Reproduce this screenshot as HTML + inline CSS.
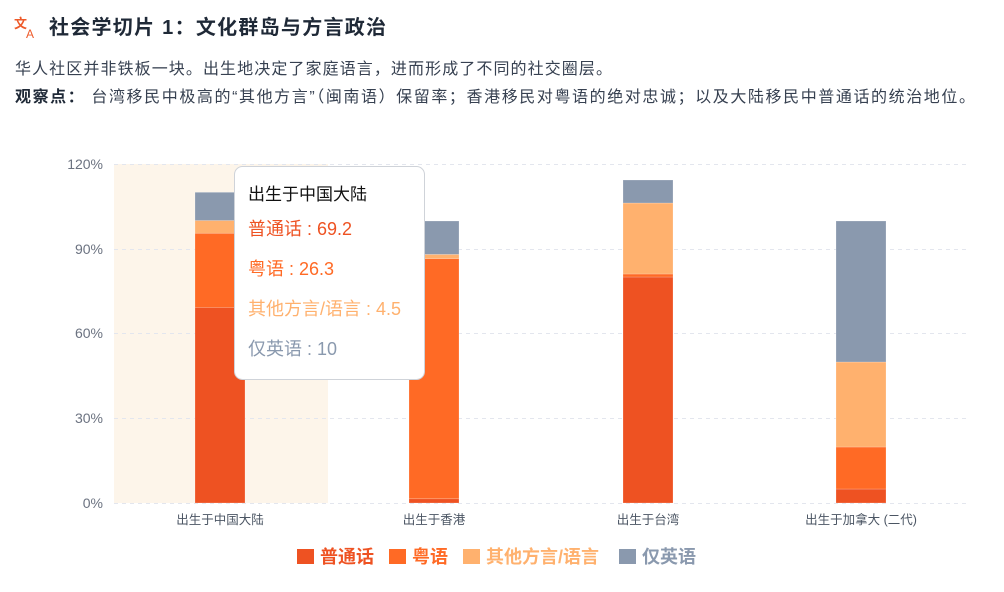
<!DOCTYPE html>
<html><head><meta charset="utf-8"><style>
body{margin:0;background:#fff;width:1004px;height:592px;overflow:hidden;font-family:"Liberation Sans","Noto Sans CJK SC",sans-serif}
</style></head><body>
<svg width="1004" height="592" xmlns="http://www.w3.org/2000/svg" style="position:absolute;left:0;top:0;font-family:'Liberation Sans','Noto Sans CJK SC',sans-serif">
<text x="14" y="28" font-size="13" fill="#ee5a2a" font-weight="bold">文</text>
<text x="26" y="38" font-size="12" fill="#ee5a2a">A</text>
<text x="49" y="34" font-size="20" font-weight="bold" fill="#1f2937" textLength="337" lengthAdjust="spacing">社会学切片 1：文化群岛与方言政治</text>
<text x="15" y="74" font-size="16" fill="#374151" textLength="597" lengthAdjust="spacing">华人社区并非铁板一块。出生地决定了家庭语言，进而形成了不同的社交圈层。</text>
<text x="15" y="102" font-size="16" fill="#374151" textLength="960" lengthAdjust="spacing"><tspan font-weight="bold" fill="#1f2937">观察点：</tspan> 台湾移民中极高的“其他方言”（闽南语）保留率；香港移民对粤语的绝对忠诚；以及大陆移民中普通话的统治地位。</text>
<rect x="114" y="164" width="214" height="339" fill="#fdf5ea"/>
<g stroke="#e3e6ee" stroke-dasharray="4,4" stroke-width="1">
<line x1="114" x2="966" y1="164.5" y2="164.5"/><line x1="114" x2="966" y1="249.5" y2="249.5"/><line x1="114" x2="966" y1="333.5" y2="333.5"/><line x1="114" x2="966" y1="418.5" y2="418.5"/><line x1="114" x2="966" y1="503.5" y2="503.5"/>
</g>
<g font-size="14" fill="#6b7280" text-anchor="end">
<text x="103" y="169">120%</text><text x="103" y="254">90%</text><text x="103" y="338">60%</text><text x="103" y="423">30%</text><text x="103" y="508">0%</text>
</g>
<g stroke="#fff" stroke-opacity="0.4" stroke-width="0.5">
<rect x="195" y="307.5" width="50" height="195.5" fill="#ee5222"/>
<rect x="195" y="233.2" width="50" height="74.3" fill="#ff6a25"/>
<rect x="195" y="220.5" width="50" height="12.7" fill="#ffb16e"/>
<rect x="195" y="192.3" width="50" height="28.2" fill="#8a99ae"/>
<rect x="409" y="498.8" width="50" height="4.2" fill="#ee5222"/>
<rect x="409" y="258.6" width="50" height="240.2" fill="#ff6a25"/>
<rect x="409" y="254.4" width="50" height="4.2" fill="#ffb16e"/>
<rect x="409" y="221" width="50" height="33.4" fill="#8a99ae"/>
<rect x="623" y="277" width="50" height="226" fill="#ee5222"/>
<rect x="623" y="274" width="50" height="3" fill="#ff6a25"/>
<rect x="623" y="203" width="50" height="71" fill="#ffb16e"/>
<rect x="623" y="180" width="50" height="23" fill="#8a99ae"/>
<rect x="836" y="489" width="50" height="14" fill="#ee5222"/>
<rect x="836" y="447" width="50" height="42" fill="#ff6a25"/>
<rect x="836" y="362" width="50" height="85" fill="#ffb16e"/>
<rect x="836" y="221" width="50" height="141" fill="#8a99ae"/>
</g>
<g font-size="12.5" fill="#4b5563" text-anchor="middle">
<text x="220" y="524">出生于中国大陆</text><text x="434" y="524">出生于香港</text><text x="648" y="524">出生于台湾</text><text x="861" y="524">出生于加拿大 (二代)</text>
</g>
<rect x="234.5" y="166.5" width="190" height="213" rx="8" fill="#fff" stroke="#cfd3d9"/>
<text x="248" y="200" font-size="17" fill="#111">出生于中国大陆</text>
<text x="248" y="235" font-size="18" fill="#ee5222">普通话 : 69.2</text>
<text x="248" y="275" font-size="18" fill="#ff6a25">粤语 : 26.3</text>
<text x="248" y="315" font-size="18" fill="#ffb16e">其他方言/语言 : 4.5</text>
<text x="248" y="355" font-size="18" fill="#8a99ae">仅英语 : 10</text>
<g font-size="18" font-weight="bold">
<rect x="297" y="549" width="17" height="15" fill="#ee5222"/><text x="320" y="563" fill="#ee5222">普通话</text>
<rect x="389" y="549" width="17" height="15" fill="#ff6a25"/><text x="412" y="563" fill="#ff6a25">粤语</text>
<rect x="463" y="549" width="17" height="15" fill="#ffb16e"/><text x="486" y="563" fill="#ffb16e">其他方言/语言</text>
<rect x="619" y="549" width="17" height="15" fill="#8a99ae"/><text x="642" y="563" fill="#8a99ae">仅英语</text>
</g>
</svg>
</body></html>
